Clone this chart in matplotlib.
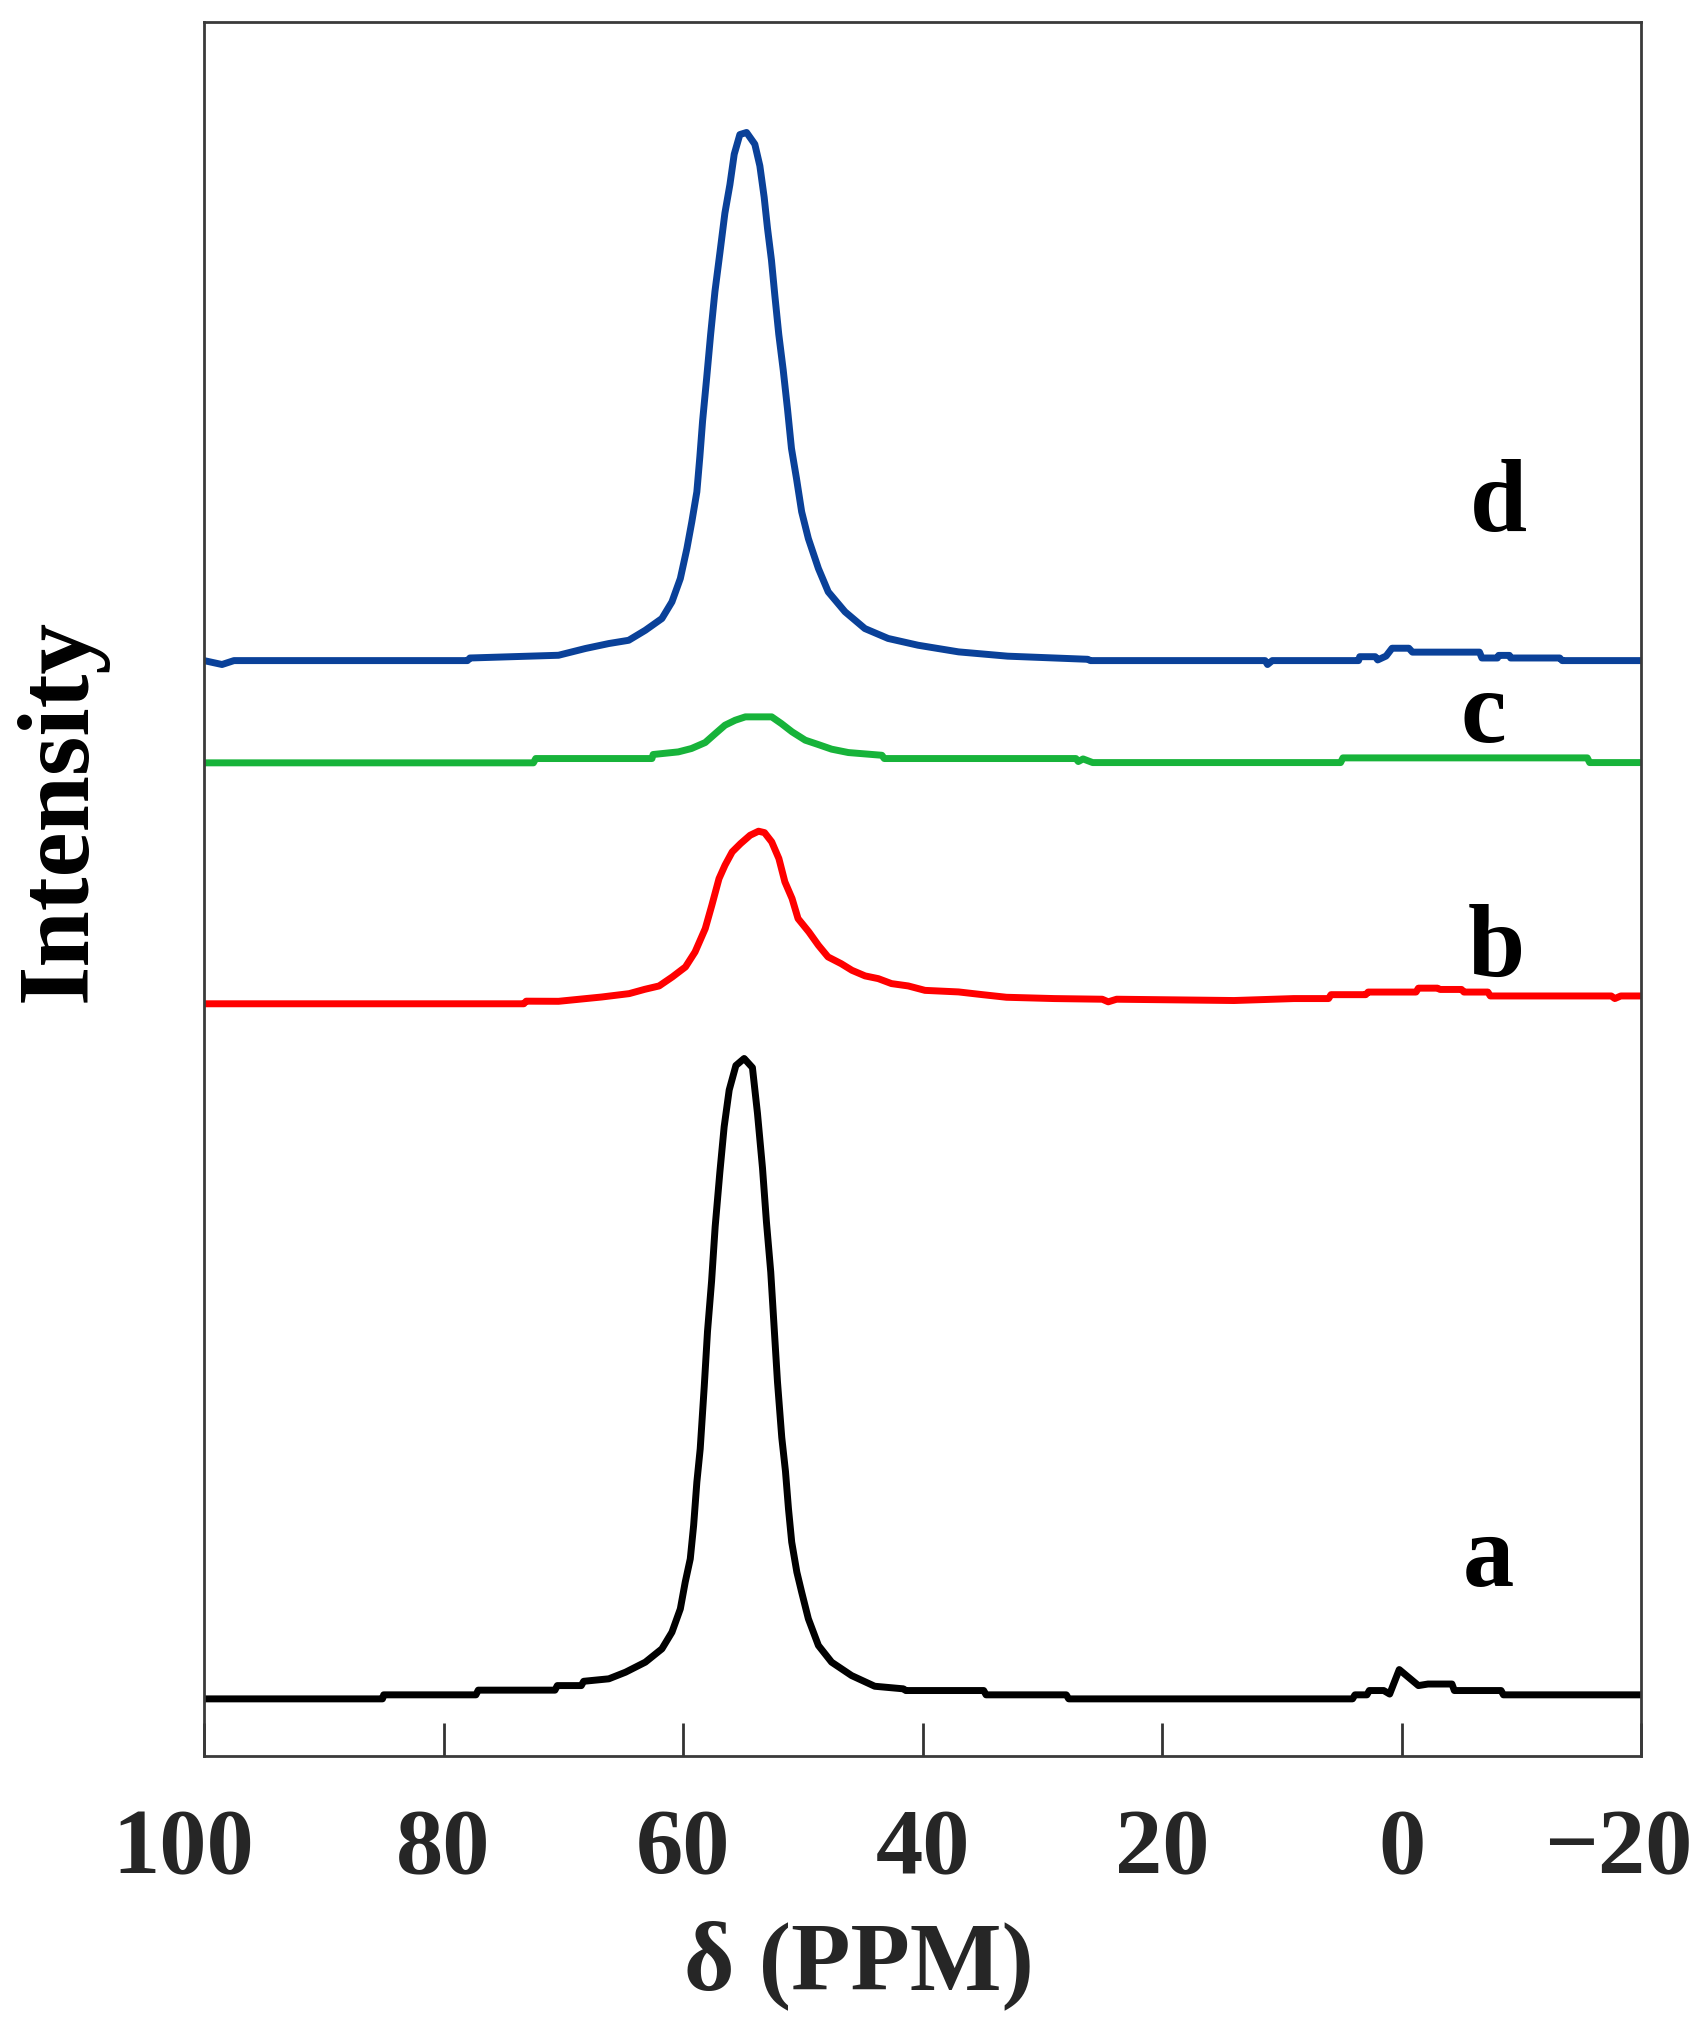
import matplotlib.pyplot as plt
from matplotlib.transforms import ScaledTranslation

plt.rcParams['font.family'] = ['Liberation Serif', 'DejaVu Serif']
plt.rcParams['font.weight'] = 'bold'

# spectrum a (black)
a_ppm = [100, 85.1, 85, 77.3, 77.1, 70.7, 70.5, 68.5, 68.3, 66.2, 64.8, 63.15, 61.77,
         60.93, 60.23, 59.82, 59.4, 59.12, 58.85, 58.57, 58.23, 57.96, 57.62, 57.32,
         56.93, 56.57, 56.15, 55.59, 54.9, 54.21, 53.79, 53.37, 53.04, 52.68, 52.40,
         52.12, 51.76, 51.45, 51.2, 50.93, 50.5, 50.1, 49.54, 48.7, 47.6, 45.93, 44.0,
         41.6, 41.4, 34.9, 34.7, 28.0, 27.8, 4.1, 3.9, 2.9, 2.7, 1.5, 1.0, 0.2, -1.4,
         -2.2, -4.2, -4.4, -8.3, -8.5, -20]
a_int = [49.3, 49.3, 52.4, 52.4, 56, 56, 59.5, 59.5, 62.8, 64.7, 69.8, 77.5, 87.7,
         100.5, 118.4, 139, 156.8, 182.4, 215.7, 241.3, 289.6, 331.5, 370, 412,
         453.6, 488.6, 516.8, 535.6, 541, 534, 499, 457, 415.5, 377, 335,
         293, 250, 224, 195.3, 169.7, 146.6, 131.3, 110.8, 90.3, 77.5, 67.2, 59,
         57, 55.7, 55.7, 52.4, 52.4, 49.3, 49.3, 52.4, 52.4, 55.7, 55.7, 53, 71.8, 59.5,
         60.7, 60.7, 55.7, 55.7, 52.4, 52.4]

# spectrum b (red)
b_ppm = [100, 73.3, 73.1, 70.4, 66.8, 64.5, 63.2, 62.0, 60.9, 59.8, 59.0, 58.15, 57.6,
         57.0, 56.5, 55.9, 55.2, 54.4, 53.7, 53.2, 52.6, 52.0, 51.5, 50.9, 50.4, 49.5,
         48.7, 47.9, 46.8, 45.9, 44.8, 43.7, 42.6, 41.2, 39.8, 37.0, 35, 33, 29, 25,
         24.5, 23.8, 14, 9, 6.1, 5.9, 3.0, 2.8, -1.2, -1.4, -3, -3.2, -5, -5.2, -7.2,
         -7.4, -17.5, -17.8, -18.3, -20]
b_int = [583, 583, 585, 584.9, 588.2, 590.8, 594.1, 596.7, 603.6, 611.3, 622.8, 640.7, 658.6,
         679.1, 689.4, 699.6, 706.0, 712.4, 715.5, 714.4, 707.3, 694.5, 676.6, 663.8, 648.4, 638.2,
         627.9, 619.0, 613.8, 608.7, 604.4, 602.3, 598.5, 596.7, 593.3, 592.1, 590, 588, 587, 586.5,
         584.5, 586.5, 585.5, 587, 587, 590, 590, 592, 592, 595, 595, 594, 594, 592, 592,
         589, 589, 587, 589, 589]

# spectrum c (green)
c_ppm = [100, 72.5, 72.3, 62.6, 62.5, 60.4, 59.3, 58.15, 57.3, 56.5, 55.65, 54.8, 52.6,
         51.8, 50.9, 49.8, 48.7, 47.6, 46.2, 43.4, 43.2, 27.2, 27.0, 26.6, 25.8, 5.1,
         4.9, -15.5, -15.7, -20]
c_int = [768, 768, 771.3, 771.3, 774.4, 776.4, 779.0, 783.6, 790.5, 796.9, 800.7, 803.3, 803.3,
         798.2, 791.8, 785.4, 782.0, 778.5, 775.9, 773.8, 771.3, 771.3, 769, 771, 768.2, 768.2,
         771.8, 771.8, 768.2, 768.2]

# spectrum d (blue)
d_ppm = [100, 98.5, 97.5, 78, 77.8, 70.4, 68.15, 66.2, 64.54, 63.15, 61.77, 60.93, 60.23,
         59.68, 59.27, 58.85, 58.6, 58.37, 58.03, 57.7, 57.34, 56.92, 56.51, 56.09, 55.73,
         55.26, 54.7, 54.01, 53.59, 53.23, 52.95, 52.62, 52.34, 52.01, 51.64, 51.28,
         50.95, 50.53, 50.1, 49.54, 48.7, 47.88, 46.48, 44.82, 42.88, 40.38, 37.0, 32.9,
         26.2, 26.0, 11.4, 11.2, 10.8, 3.6, 3.5, 2.2, 2.0, 1.3, 0.8, -0.6, -0.9, -6.5,
         -6.7, -8.0, -8.1, -9.0, -9.1, -13.2, -13.4, -20]
d_int = [846.5, 843.5, 846.5, 846.5, 848.5, 850.6, 855.8, 859.6, 862.1, 869.8, 878.8, 891.6, 909.5,
         932.6, 953.1, 976.1, 1003, 1030.6, 1063.6, 1096.9, 1129.9, 1160, 1190, 1212, 1235.3,
         1250.4, 1252, 1243, 1226.4, 1202.3, 1178.3, 1153.9, 1127, 1097, 1069.7, 1039.5,
         1009.4, 986.3, 960.8, 940.2, 917.2, 899.3, 884, 871.1, 863.5, 858.3, 853.2, 849.9,
         847.5, 846.5, 846.5, 843.5, 846.5, 846.5, 849.5, 849.5, 847, 850, 856, 856, 853, 853,
         848.5, 848.5, 850.5, 850.5, 848.5, 848.5, 846.5, 846.5]

labels = ['a', 'b', 'c', 'd']
label_x = [-7.2, -7.9, -6.8, -8.1]
label_y = [137, 605, 785, 947]

fig = plt.figure(figsize=(17.06, 20.33), dpi=100)
ax = fig.add_axes([0.1196, 0.1358, 0.8424, 0.853])

ax.plot(a_ppm, a_int, color='black', lw=5)
ax.plot(b_ppm, b_int, color='#ff0000', lw=5)
ax.plot(c_ppm, c_int, color='#17b33a', lw=5)
ax.plot(d_ppm, d_int, color='#0a4199', lw=5)

for t, x, y in zip(labels, label_x, label_y):
    ax.text(x, y, t, fontsize=74, fontweight='bold', ha='center', va='baseline')

ax.set_xlim(100, -20)
ax.set_ylim(5.5, 1337)
ax.set_xticks([100, 80, 60, 40, 20, 0, -20])
ax.set_yticks([])
ax.tick_params(axis='x', direction='in', length=24, width=2, color='#333333',
               labelsize=68, labelcolor='#262626', pad=37)
ticklabs = ax.get_xticklabels()
for lab in ticklabs:
    lab.set_fontweight('bold')
# edge labels sit a little inward in the original
ticklabs[0].set_transform(ticklabs[0].get_transform() + ScaledTranslation(-0.21, 0, fig.dpi_scale_trans))
ticklabs[-1].set_transform(ticklabs[-1].get_transform() + ScaledTranslation(-0.23, 0, fig.dpi_scale_trans))
for s in ax.spines.values():
    s.set_linewidth(2)
    s.set_color('#3a3a3a')

ax.set_xlabel('δ (PPM)', fontsize=70, fontweight='bold', color='#262626', va='center')
ax.xaxis.set_label_coords(0.456, -0.12)
ax.set_ylabel('Intensity', fontsize=73, fontweight='bold', va='center')
ax.yaxis.set_label_coords(-0.0995, 0.546)

fig.savefig('out.png', dpi=100)
